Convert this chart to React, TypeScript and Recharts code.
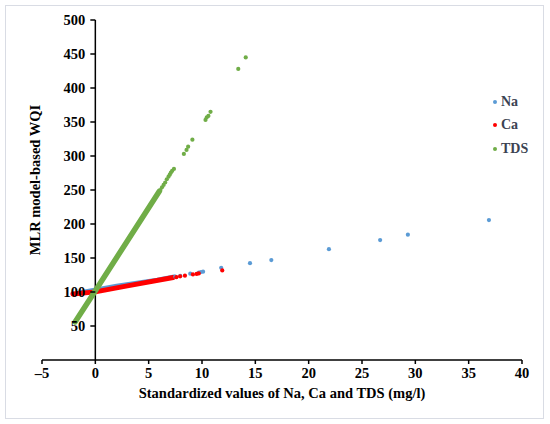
import {
  ComposedChart, Line, Scatter, XAxis, YAxis, ReferenceLine,
} from 'recharts';

// chart box (px) — the y axis crosses at x = 0, not at the left edge
const W = 550;
const H = 424;
const PLOT_LEFT = 42;
const PLOT_RIGHT = 522;
const PLOT_TOP = 20;
const PLOT_BOTTOM = 360;
const Y_AXIS_W = 1;

const X_MIN = -5;
const X_MAX = 40;
const xTicks = [-5, 0, 5, 10, 15, 20, 25, 30, 35, 40];
const yTicks = [50, 100, 150, 200, 250, 300, 350, 400, 450, 500];

// dense runs of points (they read as solid bands in the figure)
const naBandX = [-1.5, 2, 5.8, 7.4];
const naBandY = [99, 109, 117.8, 122.4];
const caBandX = [-2.1, 0, 3, 7.3];
const caBandY = [97, 100.2, 109, 121.4];
const tdsBandX = [-1.9, 0, 3, 6.0];
const tdsBandY = [56, 102, 175, 248];

// separate points
const naX = [7.5, 7.96, 8.9, 9.7, 9.9, 10.1, 11.8, 14.5, 16.5, 21.9, 26.7, 29.3, 36.9];
const naY = [122.6, 123.6, 127, 128.6, 129.4, 129.9, 135.6, 142.4, 147, 163, 176.4, 184.3, 205.8];
const caX = [7.6, 7.95, 8.4, 9.15, 9.5, 9.7, 11.9];
const caY = [121.8, 123, 124, 125.8, 126.6, 127.3, 131.8];
const tdsX = [6.1, 6.25, 6.4, 6.55, 6.7, 6.86, 6.98, 7.08, 7.2, 7.37, 8.3, 8.55, 8.7, 9.1, 10.33, 10.45, 10.6, 10.8, 13.4, 14.1];
const tdsY = [250, 254, 257.5, 261, 265.8, 269.6, 272.5, 275.5, 278, 281, 303, 309, 313.7, 324, 353, 357, 359, 365, 428, 445];

const seriesNames = ['Na', 'Ca', 'TDS'];
const seriesColors = ['#5b9bd5', '#ff0000', '#70ad47'];
const [NA_COLOR, CA_COLOR, TDS_COLOR] = seriesColors;

const FONT = '"Liberation Serif", "Times New Roman", serif';
const FS = 14.5;

const zip = (xs: number[], ys: number[]) => xs.map((x, i) => ({ x, y: ys[i] }));

const naBand = zip(naBandX, naBandY);
const caBand = zip(caBandX, caBandY);
const tdsBand = zip(tdsBandX, tdsBandY);
const naPts = zip(naX, naY);
const caPts = zip(caX, caY);
const tdsPts = zip(tdsX, tdsY);

// shift from the plot's left edge to x = 0
const Y_AXIS_SHIFT = ((0 - X_MIN) / (X_MAX - X_MIN)) * (PLOT_RIGHT - PLOT_LEFT);

const dot = (color: string) => (p: any) => (
  <circle cx={p.cx} cy={p.cy} r={2.1} fill={color} />
);

const renderYTick = (props: any) => {
  const { y, payload } = props;
  const ax = PLOT_LEFT + Y_AXIS_SHIFT;
  return (
    <g key={`yt-${payload.value}`}>
      <line x1={ax - 5} x2={ax} y1={y} y2={y} stroke="#000" strokeWidth={1.5} />
      <text
        x={ax - 10}
        y={y}
        dy="0.35em"
        textAnchor="end"
        fontFamily={FONT}
        fontWeight="bold"
        fontSize={FS}
        fill="#000"
      >
        {payload.value}
      </text>
    </g>
  );
};

// legend sits inside the plot, top right
const LegendBox = () => (
  <div
    style={{
      position: 'absolute', left: 493, top: 90,
      fontFamily: FONT, fontWeight: 'bold', fontSize: 14, color: '#3b4352',
    }}
  >
    {seriesNames.map((name, i) => (
      <div key={name} style={{ display: 'flex', alignItems: 'center', height: 23.5 }}>
        <span
          style={{
            width: 4, height: 4, borderRadius: 2, background: seriesColors[i],
            display: 'inline-block', marginRight: 4,
          }}
        />
        <span>{name}</span>
      </div>
    ))}
  </div>
);

export default function App() {
  return (
    <div style={{ position: 'absolute', left: 0, top: 0, width: W, height: H, background: '#fff' }}>
      <div
        style={{
          position: 'absolute', left: 5, top: 5, width: 537, height: 412,
          border: '1px solid #d9dce4',
        }}
      />
      <ComposedChart
        width={W}
        height={H}
        margin={{ top: PLOT_TOP, right: W - PLOT_RIGHT, bottom: 0, left: PLOT_LEFT - Y_AXIS_W }}
        style={{ position: 'absolute', left: 0, top: 0 }}
      >
        <XAxis
          type="number"
          dataKey="x"
          domain={[X_MIN, X_MAX]}
          ticks={xTicks}
          allowDataOverflow
          height={H - PLOT_BOTTOM}
          axisLine={{ stroke: '#000', strokeWidth: 1.5 }}
          tickLine={{ stroke: '#000', strokeWidth: 1.5 }}
          tickSize={4}
          tickMargin={4}
          tickFormatter={(v: number) => (v < 0 ? `\u2013${-v}` : `${v}`)}
          tick={{ fontFamily: FONT, fontWeight: 'bold', fontSize: FS, fill: '#000' }}
          label={{
            value: 'Standardized values of Na, Ca and TDS (mg/l)',
            position: 'insideTop',
            offset: 28,
            fontFamily: FONT,
            fontWeight: 'bold',
            fontSize: FS,
            fill: '#000',
          }}
        />
        <YAxis
          type="number"
          dataKey="y"
          domain={[0, 500]}
          ticks={yTicks}
          interval={0}
          allowDataOverflow
          width={Y_AXIS_W}
          axisLine={false}
          tickLine={false}
          tick={renderYTick}
          label={{
            content: ({ viewBox }: any) => {
              const cx = PLOT_LEFT - 7;
              const cy = viewBox.y + viewBox.height / 2 - 10;
              return (
                <text
                  x={cx}
                  y={cy}
                  transform={`rotate(-90 ${cx} ${cy})`}
                  textAnchor="middle"
                  dy="0.35em"
                  fontFamily={FONT}
                  fontWeight="bold"
                  fontSize={FS}
                  fill="#000"
                >
                  MLR model-based WQI
                </text>
              );
            },
          }}
        />
        <ReferenceLine x={0} stroke="#000" strokeWidth={1.5} />
        <Line data={naBand} dataKey="y" stroke={NA_COLOR} strokeWidth={4.5} strokeLinecap="round"
          dot={false} legendType="none" isAnimationActive={false} />
        <Scatter name="Na" data={naPts} fill={NA_COLOR} shape={dot(NA_COLOR)} isAnimationActive={false} />
        <Line data={caBand} dataKey="y" stroke={CA_COLOR} strokeWidth={5} strokeLinecap="round"
          dot={false} legendType="none" isAnimationActive={false} />
        <Scatter name="Ca" data={caPts} fill={CA_COLOR} shape={dot(CA_COLOR)} isAnimationActive={false} />
        <Line data={tdsBand} dataKey="y" stroke={TDS_COLOR} strokeWidth={5.5} strokeLinecap="round"
          dot={false} legendType="none" isAnimationActive={false} />
        <Scatter name="TDS" data={tdsPts} fill={TDS_COLOR} shape={dot(TDS_COLOR)} isAnimationActive={false} />
      </ComposedChart>
      <LegendBox />
    </div>
  );
}
